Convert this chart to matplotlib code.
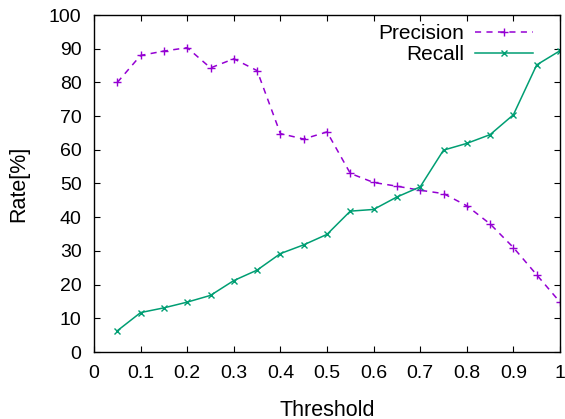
import numpy as np
import matplotlib
matplotlib.use('Agg')
import matplotlib.pyplot as plt

plt.rcParams['font.family'] = ['Liberation Sans', 'DejaVu Sans']

threshold = [0.05, 0.1, 0.15, 0.2, 0.25, 0.3, 0.35, 0.4, 0.45, 0.5,
             0.55, 0.6, 0.65, 0.7, 0.75, 0.8, 0.85, 0.9, 0.95, 1.0]
precision = [80.0, 88.0, 89.3, 90.3, 84.3, 87.0, 83.5, 64.8, 63.2, 65.3,
             53.0, 50.3, 49.2, 48.0, 47.0, 43.4, 38.0, 31.0, 22.9, 14.8]
recall = [6.3, 11.7, 13.1, 14.8, 16.8, 21.2, 24.3, 29.2, 31.8, 34.9,
          41.8, 42.3, 46.0, 49.0, 59.9, 61.9, 64.5, 70.4, 85.2, 89.4]

xticks = [0, 0.1, 0.2, 0.3, 0.4, 0.5, 0.6, 0.7, 0.8, 0.9, 1]
xticklabels = ['0', '0.1', '0.2', '0.3', '0.4', '0.5', '0.6', '0.7', '0.8', '0.9', '1']
yticks = list(range(0, 101, 10))

fig = plt.figure(figsize=(5.65, 4.19), dpi=100)
ax = fig.add_axes([94 / 565, 67 / 419, 466 / 565, 337 / 419])

ax.plot(threshold, precision, color='#9400D3', linestyle=(0, (4, 3.5)), linewidth=1.1,
        marker='+', markersize=5.5, markeredgewidth=1.0, label='Precision')
ax.plot(threshold, recall, color='#009E73', linestyle='-', linewidth=1.1,
        marker='x', markersize=4.5, markeredgewidth=1.0, label='Recall')

ax.set_xlim(0, 1)
ax.set_ylim(0, 100)
ax.set_xticks(xticks)
ax.set_xticklabels(xticklabels)
ax.set_yticks(yticks)
ax.tick_params(direction='in', length=4, width=0.8, labelsize=14, pad=9,
               top=True, right=True)
for s in ax.spines.values():
    s.set_linewidth(1.0)

ax.set_xlabel('Threshold', fontsize=15.5, labelpad=13)
ax.set_ylabel('Rate[%]', fontsize=15.5, labelpad=14)

ax.legend(loc='upper right', frameon=False, markerfirst=False, fontsize=15,
          handlelength=2.8, handletextpad=0.5, labelspacing=0.1,
          borderpad=0, borderaxespad=0, bbox_to_anchor=(0.942, 0.973))

fig.savefig('out.png', dpi=100)
